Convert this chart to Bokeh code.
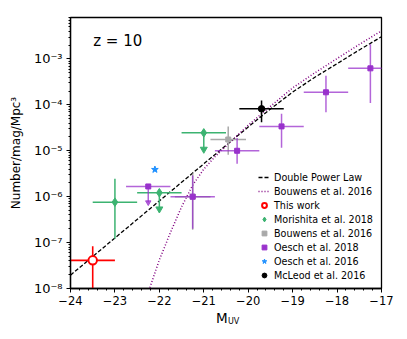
import numpy as np
from bokeh.plotting import figure
from bokeh.models import (Legend, LegendItem, Label, LogTicker, SingleIntervalTicker,
                          CustomJSTickFormatter, Range1d, LinearAxis, FixedTicker)
from bokeh.embed import file_html
from bokeh.resources import INLINE

# ---------------- data ----------------
# model curves
dpl_muv = [-24.0, -23.0, -22.0, -21.0, -20.0, -19.5, -19.0, -18.5, -18.0, -17.5, -17.0]
dpl_phi = [1.95e-8, 1.26e-7, 8.1e-7, 5.2e-6, 3.3e-5, 8.1e-5, 1.9e-4, 4.0e-4, 7.9e-4, 1.57e-3, 3.05e-3]

b16c_muv = [-22.3, -22.22, -22.0, -21.75, -21.5, -21.25, -21.0, -20.75, -20.5, -20.0,
            -19.5, -19.0, -18.5, -18.0, -17.5, -17.0]
b16c_phi = [5.9e-9, 1.0e-8, 4.2e-8, 1.66e-7, 6.0e-7, 1.78e-6, 4.0e-6, 7.4e-6, 1.26e-5, 3.6e-5,
            9.3e-5, 2.34e-4, 5.0e-4, 1.02e-3, 2.07e-3, 4.1e-3]

# This work
tw_muv = [-23.5]
tw_phi = [4.1e-8]
tw_mlo = [-24.0]
tw_mhi = [-23.0]
tw_plo = [1e-10]
tw_phi_hi = [8.3e-8]

# Morishita et al. 2018
mo_muv = [-23.0]
mo_phi = [7.6e-7]
mo_mlo = [-23.5]
mo_mhi = [-22.5]
mo_plo = [1.22e-7]
mo_phi_hi = [2.45e-6]
mo_ul_muv = [-22.0, -21.0]
mo_ul_phi = [1.22e-6, 2.46e-5]
mo_ul_mlo = [-22.5, -21.5]
mo_ul_mhi = [-21.5, -20.5]
mo_ul_end = [5.4e-7, 1.08e-5]

# Bouwens et al. 2016 (points)
bo_muv = [-21.25, -20.45]
bo_phi = [1.0e-6, 1.76e-5]
bo_mlo = [-21.65, -20.85]
bo_mhi = [-20.85, -20.05]
bo_plo = [1.9e-7, 8.2e-6]
bo_phi_hi = [3.2e-6, 3.4e-5]

# Oesch et al. 2018
oe_muv = [-21.25, -20.25, -19.25, -18.25, -17.25]
oe_phi = [1.0e-6, 1.0e-5, 3.4e-5, 1.88e-4, 6.25e-4]
oe_mlo = [-21.75, -20.75, -19.75, -18.75, -17.75]
oe_mhi = [-20.75, -19.75, -18.75, -17.75, -16.75]
oe_plo = [2.0e-7, 5.2e-6, 1.16e-5, 6.9e-5, 1.1e-4]
oe_phi_hi = [2.9e-6, 1.9e-5, 6.4e-5, 4.3e-4, 2.1e-3]
oe_ul_muv = [-22.25]
oe_ul_phi = [1.67e-6]
oe_ul_mlo = [-22.75]
oe_ul_mhi = [-21.75]
oe_ul_end = [7.5e-7]

# Oesch et al. 2016
o16_muv = [-22.1]
o16_phi = [3.9e-6]

# McLeod et al. 2016
mc_muv = [-19.7]
mc_phi = [8.2e-5]
mc_mlo = [-20.2]
mc_mhi = [-19.2]
mc_plo = [4.2e-5]
mc_phi_hi = [1.24e-4]

# ---------------- figure ----------------
FONT = "DejaVu Sans"
NBSP = "\u00a0"
p = figure(output_backend="svg", toolbar_location=None, y_axis_type="log",
           frame_width=311, frame_height=271,
           min_border_left=70, min_border_right=25, min_border_top=17, min_border_bottom=50,
           x_range=Range1d(-24, -17), y_range=Range1d(1e-8, 8e-3),
           background_fill_color="white", border_fill_color="white")
p.xgrid.visible = False
p.ygrid.visible = False
p.outline_line_color = "black"
p.outline_line_width = 1.3

for ax in (p.xaxis[0], p.yaxis[0]):
    ax.axis_line_width = 1.3
    ax.axis_line_color = "black"
    ax.major_tick_line_color = "black"
    ax.minor_tick_line_color = "black"
    ax.major_tick_out = 4
    ax.major_tick_in = 0
    ax.minor_tick_out = 2
    ax.minor_tick_in = 0
    ax.major_label_text_color = "black"
    ax.major_label_text_font = FONT

p.xaxis.ticker = SingleIntervalTicker(interval=1, num_minor_ticks=5)
p.xaxis.formatter = CustomJSTickFormatter(code="return String(tick).replace('-', '\\u2212');")
p.xaxis.major_label_text_font_size = "11.5px"
p.xaxis.major_label_standoff = 3
p.xaxis.axis_label = "M" + NBSP * 2
p.xaxis.axis_label_text_font = FONT
p.xaxis.axis_label_text_font_size = "13.5px"
p.xaxis.axis_label_text_font_style = "normal"
p.xaxis.axis_label_text_color = "black"
p.xaxis.axis_label_standoff = 2

# second (label-only) axis carrying the subscript "UV"
sub_ax = LinearAxis(ticker=FixedTicker(ticks=[]), axis_label=NBSP * 6 + "UV",
                    axis_line_color=None, major_tick_line_color=None, minor_tick_line_color=None,
                    major_tick_out=0, major_tick_in=0, minor_tick_out=0, minor_tick_in=0,
                    major_label_standoff=0,
                    axis_label_text_font=FONT, axis_label_text_font_size="8px",
                    axis_label_text_font_style="normal", axis_label_text_color="black",
                    axis_label_standoff=-12)
p.add_layout(sub_ax, "below")

p.yaxis.ticker = LogTicker(desired_num_ticks=7, num_minor_ticks=10)
p.yaxis.formatter = CustomJSTickFormatter(code="""
const sup = {'-':'\\u207b','0':'\\u2070','1':'\\u00b9','2':'\\u00b2','3':'\\u00b3','4':'\\u2074',
             '5':'\\u2075','6':'\\u2076','7':'\\u2077','8':'\\u2078','9':'\\u2079'};
const e = Math.round(Math.log10(tick));
return '10' + String(e).split('').map(c => sup[c]).join('');
""")
p.yaxis.major_label_text_font_size = "13px"
p.yaxis.major_label_standoff = 4
p.yaxis.axis_label = "Number/mag/Mpc\u00b3"
p.yaxis.axis_label_text_font = FONT
p.yaxis.axis_label_text_font_size = "12px"
p.yaxis.axis_label_text_font_style = "normal"
p.yaxis.axis_label_text_color = "black"
p.yaxis.axis_label_standoff = 8

# ---------------- curves ----------------
r_dpl = p.line(dpl_muv, dpl_phi, line_color="black", line_width=1.3, line_dash="4 2")
r_b16c = p.line(b16c_muv, b16c_phi, line_color="purple", line_width=1.5, line_dash="1 2")

def errbars(m, phi, mlo, mhi, plo, phi_hi, color, alpha=1.0, lw=1.5):
    p.segment(x0=mlo, y0=phi, x1=mhi, y1=phi, line_color=color, line_width=lw, line_alpha=alpha)
    p.segment(x0=m, y0=plo, x1=m, y1=phi_hi, line_color=color, line_width=lw, line_alpha=alpha)

def uplims(m, phi, mlo, mhi, end, color, size, alpha=1.0, lw=1.5):
    p.segment(x0=mlo, y0=phi, x1=mhi, y1=phi, line_color=color, line_width=lw, line_alpha=alpha)
    p.segment(x0=m, y0=phi, x1=m, y1=end, line_color=color, line_width=lw, line_alpha=alpha)
    p.scatter(m, end, marker="inverted_triangle", size=size, fill_color=color,
              line_color=color, fill_alpha=alpha, line_alpha=alpha)

# This work
errbars(tw_muv, tw_phi, tw_mlo, tw_mhi, tw_plo, tw_phi_hi, "red", lw=1.6)
r_tw = p.scatter(tw_muv, tw_phi, marker="circle", size=8.5, fill_color="white",
                 line_color="red", line_width=2)

# Morishita
green = "#3cb371"
errbars(mo_muv, mo_phi, mo_mlo, mo_mhi, mo_plo, mo_phi_hi, green)
uplims(mo_ul_muv, mo_ul_phi, mo_ul_mlo, mo_ul_mhi, mo_ul_end, green, 7)
r_mo = p.scatter(mo_muv, mo_phi, marker="diamond", size=8.5, fill_color=green, line_color=green)
p.scatter(mo_ul_muv, mo_ul_phi, marker="diamond", size=8.5, fill_color=green, line_color=green)

# Bouwens points
gray = "#a9a9a9"
errbars(bo_muv, bo_phi, bo_mlo, bo_mhi, bo_plo, bo_phi_hi, gray)
r_bo = p.scatter(bo_muv, bo_phi, marker="square", size=5, fill_color=gray, line_color=gray)

# Oesch 2018
purple = "#9932cc"
errbars(oe_muv, oe_phi, oe_mlo, oe_mhi, oe_plo, oe_phi_hi, purple, alpha=0.75)
uplims(oe_ul_muv, oe_ul_phi, oe_ul_mlo, oe_ul_mhi, oe_ul_end, purple, 5.5, alpha=0.75)
r_oe = p.scatter(oe_muv, oe_phi, marker="square", size=5, fill_color=purple, line_color=purple)
p.scatter(oe_ul_muv, oe_ul_phi, marker="square", size=5, fill_color=purple, line_color=purple)

# Oesch 2016
r_o16 = p.scatter(o16_muv, o16_phi, marker="star", size=7, fill_color="#1e90ff", line_color="#1e90ff")

# McLeod
errbars(mc_muv, mc_phi, mc_mlo, mc_mhi, mc_plo, mc_phi_hi, "black")
r_mc = p.scatter(mc_muv, mc_phi, marker="circle", size=6.5, fill_color="black", line_color="black")

# ---------------- legend ----------------
legend = Legend(items=[
    LegendItem(label="Double Power Law", renderers=[r_dpl]),
    LegendItem(label="Bouwens et al. 2016", renderers=[r_b16c]),
    LegendItem(label="This work", renderers=[r_tw]),
    LegendItem(label="Morishita et al. 2018", renderers=[r_mo]),
    LegendItem(label="Bouwens et al. 2016", renderers=[r_bo]),
    LegendItem(label="Oesch et al. 2018", renderers=[r_oe]),
    LegendItem(label="Oesch et al. 2016", renderers=[r_o16]),
    LegendItem(label="McLeod et al. 2016", renderers=[r_mc]),
], location=(188, 6), orientation="vertical",
    border_line_color=None, background_fill_alpha=0,
    label_text_font=FONT, label_text_font_size="9.6px", label_text_color="black",
    glyph_width=12, glyph_height=14, label_height=14, spacing=0, padding=0, margin=0,
    label_standoff=4)
p.add_layout(legend)

# ---------------- texts ----------------
p.add_layout(Label(x=22.7, y=247.6, x_units="screen", y_units="screen", text="z = 10",
                   text_font=FONT, text_font_size="15px", text_color="black",
                   text_baseline="alphabetic"))

open("out.html", "w").write(file_html(p, INLINE))
